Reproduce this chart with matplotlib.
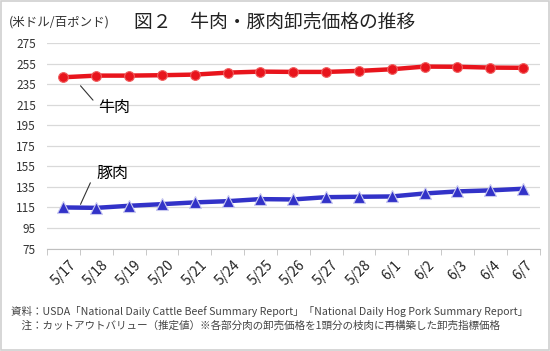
import matplotlib.pyplot as plt
import numpy as np

plt.rcParams["font.family"] = ["Noto Sans CJK JP", "DejaVu Sans"]

dates = ["5/17", "5/18", "5/19", "5/20", "5/21", "5/24", "5/25", "5/26",
         "5/27", "5/28", "6/1", "6/2", "6/3", "6/4", "6/7"]
beef = [241.8, 243.4, 243.4, 243.8, 244.4, 246.3, 247.3, 247.0,
        247.0, 248.0, 249.6, 252.2, 252.0, 251.2, 251.0]
pork = [115.0, 114.6, 116.6, 118.2, 119.9, 121.1, 123.1, 122.8,
        125.0, 125.4, 125.7, 128.6, 130.6, 131.6, 133.2]
yticks = list(range(75, 276, 20))

fig = plt.figure(figsize=(5.5, 3.51), dpi=100)
ax = fig.add_axes([0.0855, 0.292, 0.8955, 0.585])

x = np.arange(len(dates))
ax.plot(x, beef, color="#e8141c", lw=3.2, marker="o", ms=7,
        markeredgecolor="#f06060", markeredgewidth=0.8, zorder=3)
ax.plot(x, pork, color="#3232c8", lw=3.2, marker="^", ms=8,
        markeredgecolor="#c8c8f0", markeredgewidth=0.8, zorder=3)

ax.set_xlim(-0.5, len(dates) - 0.5)
ax.set_ylim(75, 275)
ax.set_yticks(yticks)
ax.set_yticklabels([str(v) for v in yticks], fontsize=8.5, color="#333333")
ax.yaxis.grid(True, color="#d9d9d9", lw=0.9)
ax.set_axisbelow(True)
ax.tick_params(axis="y", length=0, pad=8)

ax.set_xticks(x)
ax.set_xticklabels(dates, rotation=45, fontsize=10, color="#222222",
                   ha="center", va="top")
ax.tick_params(axis="x", length=0, pad=7)
ax.set_xticks(np.arange(-0.5, len(dates)), minor=True)
ax.tick_params(axis="x", which="minor", length=4, color="#bfbfbf")

for s in ["top", "right", "left"]:
    ax.spines[s].set_visible(False)
ax.spines["bottom"].set_color("#bfbfbf")

# series labels with leader lines
ax.text(1.55, 212, "牛肉", fontsize=11.5, ha="center", va="center")
ax.annotate("", xy=(0.52, 233.5), xytext=(0.9, 219.5),
            arrowprops=dict(arrowstyle="-", color="#333333", lw=0.8,
                            shrinkA=0, shrinkB=0))
ax.text(1.5, 148, "豚肉", fontsize=11.5, ha="center", va="center")
ax.annotate("", xy=(0.52, 118), xytext=(0.82, 139),
            arrowprops=dict(arrowstyle="-", color="#333333", lw=0.8,
                            shrinkA=0, shrinkB=0))

fig.text(0.5, 0.937, "図２　牛肉・豚肉卸売価格の推移", fontsize=13.5,
         ha="center", va="center", color="#222222")
fig.text(0.016, 0.937, "(米ドル/百ポンド)", fontsize=9, ha="left",
         va="center", color="#333333")

fig.text(0.02, 0.112,
         "資料：USDA「National Daily Cattle Beef Summary Report」「National Daily Hog Pork Summary Report」",
         fontsize=7.6, ha="left", va="center", color="#444444")
fig.text(0.02, 0.073,
         "　注：カットアウトバリュー（推定値）※各部分肉の卸売価格を1頭分の枝肉に再構築した卸売指標価格",
         fontsize=7.6, ha="left", va="center", color="#444444")

fig.patches.append(plt.Rectangle((0.002, 0.003), 0.996, 0.994,
                                 transform=fig.transFigure, fill=False,
                                 edgecolor="#d0d0d0", lw=1.2))

fig.savefig("out.png", dpi=100)
